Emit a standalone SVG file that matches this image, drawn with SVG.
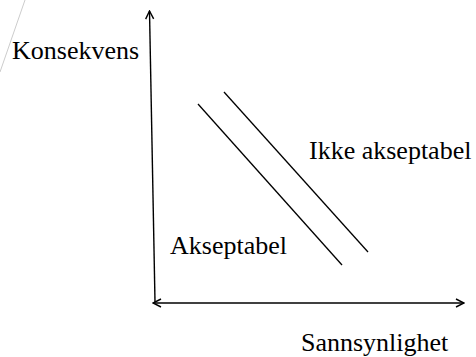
<svg xmlns="http://www.w3.org/2000/svg" width="476" height="357" viewBox="0 0 476 357">
<style>
.lbl{font-size:26px;fill:#000}
.ln{stroke:#000;stroke-width:1.3;fill:none}
.ax{stroke:#000;stroke-width:1.4;fill:none}
</style>
<defs>
<marker id="arr" viewBox="0 0 10 10" refX="9" refY="5" markerWidth="10" markerHeight="10" markerUnits="userSpaceOnUse" orient="auto-start-reverse">
<path d="M1,1 L9,5 L1,9" fill="none" stroke="#000" stroke-width="1.4"/>
</marker>
</defs>
<rect width="476" height="357" fill="#fff"/>
<line x1="25" y1="0" x2="0" y2="72" stroke="#cccccc" stroke-width="1"/>
<g id="connectors">
<line class="ax" x1="155" y1="302" x2="149.5" y2="11" marker-end="url(#arr)"/>
<line class="ax" x1="153" y1="303" x2="464" y2="303" marker-start="url(#arr)" marker-end="url(#arr)"/>
<line class="ln" x1="198" y1="104" x2="342" y2="265"/>
<line class="ln" x1="224" y1="92" x2="368" y2="252"/>
</g>
<g font-family="'Liberation Serif', 'Times New Roman', serif">
<g id="konsekvens"><text class="lbl" x="12" y="59">Konsekvens</text></g>
<g id="sannsynlighet"><text class="lbl" x="301" y="351">Sannsynlighet</text></g>
<g id="akseptabel"><text class="lbl" x="170" y="254">Akseptabel</text></g>
<g id="ikke-akseptabel"><text class="lbl" x="309" y="159">Ikke akseptabel</text></g>
</g>
</svg>
